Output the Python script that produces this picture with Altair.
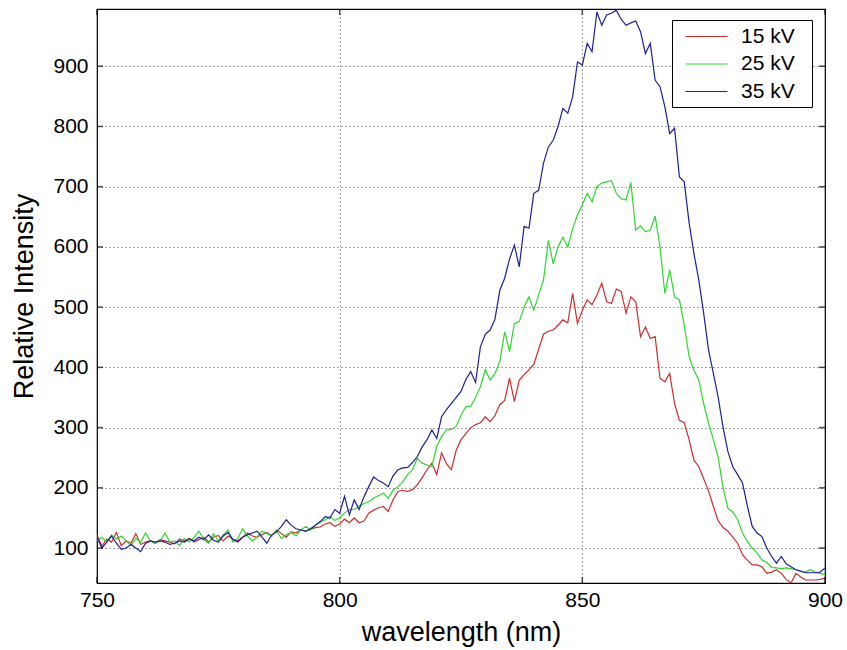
import altair as alt
import pandas as pd

FONT = "Liberation Sans"

wavelength = list(range(750, 901))

kv15 = [122, 103, 115, 110, 126, 104, 112, 108, 124, 106,
        110, 112, 108, 114, 112, 110, 107, 115, 112, 116,
        110, 114, 118, 110, 118, 121, 112, 120, 115, 112,
        118, 125, 120, 118, 122, 126, 120, 130, 124, 118,
        127, 125, 130, 128, 131, 134, 135, 140, 142, 136,
        140, 148, 142, 150, 142, 145, 158, 163, 167, 169,
        161, 180, 194, 196, 194, 197, 205, 217, 230, 241,
        222, 258, 240, 230, 262, 280, 290, 300, 305, 308,
        318, 310, 320, 338, 345, 382, 343, 379, 388, 396,
        405, 430, 455, 460, 462, 470, 479, 474, 523, 473,
        495, 512, 504, 520, 540, 509, 506, 530, 526, 490,
        517, 509, 451, 467, 448, 451, 382, 376, 390, 340,
        312, 308, 280, 246, 235, 215, 195, 169, 145, 134,
        128, 118, 108, 89, 80, 72, 72, 69, 58, 60,
        64, 58, 48, 42, 58, 52, 47, 47, 47, 48,
        50]

kv25 = [112, 118, 110, 122, 115, 120, 112, 104, 116, 110,
        125, 112, 108, 112, 125, 110, 112, 104, 116, 110,
        118, 128, 114, 108, 124, 112, 122, 130, 110, 116,
        132, 120, 112, 118, 128, 124, 120, 128, 116, 122,
        126, 120, 130, 136, 130, 138, 143, 147, 152, 146,
        150, 158, 164, 164, 170, 174, 177, 183, 187, 191,
        183, 196, 202, 210, 222, 230, 249, 241, 238, 235,
        269, 285, 296, 297, 302, 320, 335, 335, 350, 368,
        396, 379, 390, 410, 459, 426, 473, 476, 500, 517,
        495, 520, 545, 611, 572, 600, 616, 600, 630, 653,
        670, 689, 675, 700, 706, 708, 710, 689, 680, 678,
        707, 628, 635, 625, 628, 651, 600, 523, 562, 517,
        512, 470, 418, 395, 379, 340, 307, 280, 250, 200,
        166, 160, 147, 125, 111, 100, 92, 80, 76, 68,
        67, 66, 67, 66, 64, 61, 60, 64, 60, 58,
        56]

kv35 = [118, 100, 110, 120, 108, 98, 100, 106, 100, 94,
        108, 112, 110, 112, 110, 106, 108, 112, 110, 115,
        112, 118, 114, 122, 113, 110, 120, 126, 114, 110,
        118, 122, 125, 128, 118, 108, 122, 127, 136, 147,
        138, 132, 130, 128, 132, 138, 144, 152, 150, 164,
        158, 186, 155, 180, 164, 185, 202, 218, 212, 208,
        202, 220, 230, 233, 234, 242, 252, 268, 280, 296,
        282, 318, 330, 340, 350, 360, 380, 393, 375, 434,
        455, 462, 480, 528, 548, 580, 603, 567, 634, 631,
        689, 694, 739, 766, 777, 800, 830, 822, 849, 907,
        902, 938, 924, 990, 968, 985, 988, 993, 978, 968,
        972, 975, 957, 921, 938, 877, 866, 833, 788, 797,
        716, 708, 640, 589, 545, 490, 429, 390, 350, 300,
        260, 235, 222, 208, 170, 136, 125, 119, 100, 86,
        75, 86, 74, 69, 64, 62, 59, 59, 59, 60,
        67]

series_labels = ["15 kV", "25 kV", "35 kV"]
series_colors = ["#cc2e2e", "#2fd62f", "#1f1f99"]
x_ticks = [750, 800, 850, 900]
y_ticks = [100, 200, 300, 400, 500, 600, 700, 800, 900]

rows = []
for lab, vals in zip(series_labels, [kv15, kv25, kv35]):
    for w, v in zip(wavelength, vals):
        rows.append({"wavelength": w, "intensity": v, "series": lab})
df = pd.DataFrame(rows)

W, H = 728, 574
xscale = alt.Scale(domain=[750, 900], nice=False, zero=False)
yscale = alt.Scale(domain=[42, 995], nice=False, zero=False)

x_axis = alt.Axis(values=x_ticks, title="wavelength (nm)", labelPadding=6,
                  titlePadding=9, labelFlush=False)
y_axis = alt.Axis(values=y_ticks, title="Relative Intensity", labelPadding=9,
                  titlePadding=14)

lines = alt.Chart(df).mark_line(strokeWidth=1.2, clip=True).encode(
    x=alt.X("wavelength:Q", scale=xscale, axis=x_axis),
    y=alt.Y("intensity:Q", scale=yscale, axis=y_axis),
    color=alt.Color("series:N",
                    scale=alt.Scale(domain=series_labels, range=series_colors),
                    legend=alt.Legend(orient="none", legendX=575, legendY=11, title=None,
                                      strokeColor="black", fillColor="white", padding=5,
                                      symbolType="M-2,0H2", symbolSize=441,
                                      symbolStrokeWidth=1.2, symbolOffset=18,
                                      labelOffset=23, labelFontSize=21, labelFont=FONT,
                                      labelColor="black", rowPadding=5.5,
                                      labelExpr="datum.label + '\u00a0\u00a0\u200b'",
                                      cornerRadius=0)),
)

ydf = pd.DataFrame({"intensity": y_ticks})
xdf = pd.DataFrame({"wavelength": x_ticks})

ytick_left = alt.Chart(ydf).mark_tick(orient="horizontal", size=6, thickness=1.5, color="black").encode(
    y=alt.Y("intensity:Q", scale=yscale, axis=y_axis), x=alt.value(3))
ytick_right = alt.Chart(ydf).mark_tick(orient="horizontal", size=6, thickness=1.5, color="black").encode(
    y=alt.Y("intensity:Q", scale=yscale, axis=y_axis), x=alt.value(W - 3))
xtick_bottom = alt.Chart(xdf).mark_tick(orient="vertical", size=6, thickness=1.5, color="black").encode(
    x=alt.X("wavelength:Q", scale=xscale, axis=x_axis), y=alt.value(H - 3))
xtick_top = alt.Chart(xdf).mark_tick(orient="vertical", size=6, thickness=1.5, color="black").encode(
    x=alt.X("wavelength:Q", scale=xscale, axis=x_axis), y=alt.value(3))

chart = alt.layer(lines, ytick_left, ytick_right, xtick_bottom, xtick_top).properties(
    width=W, height=H,
    autosize=alt.AutoSizeParams(type="none"),
    padding={"left": 97, "top": 9, "right": 22, "bottom": 67},
    background="white",
).configure_view(
    stroke="black", strokeWidth=1.2
).configure_axis(
    grid=True, gridColor="black", gridDash=[1, 3], gridOpacity=0.75, gridWidth=1,
    domain=False, ticks=False,
    labelFont=FONT, labelFontSize=21, labelColor="black",
    titleFont=FONT, titleFontSize=27, titleFontWeight="normal", titleColor="black",
)

chart.save("out.html", embed_options={"renderer": "svg", "actions": False})
